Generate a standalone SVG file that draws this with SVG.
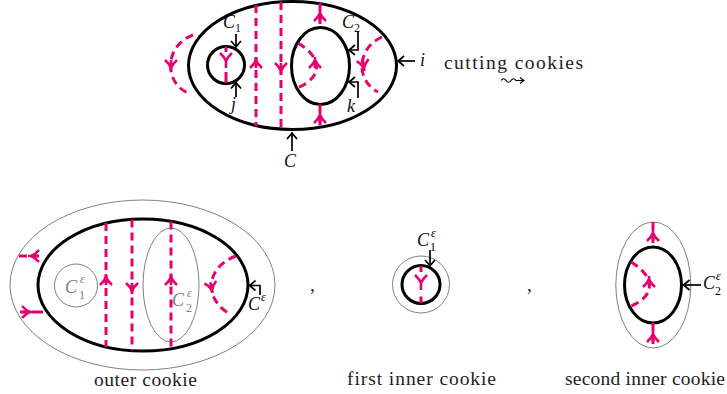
<svg xmlns="http://www.w3.org/2000/svg" xmlns:xlink="http://www.w3.org/1999/xlink" width="727" height="394" viewBox="0 0 727 394">
<style>
.bk{fill:none;stroke:#000;stroke-width:3}
.gr{fill:none;stroke:#808080;stroke-width:1}
.pk{fill:none;stroke:#e6006f;stroke-width:3;stroke-dasharray:8 5}
.ps{fill:none;stroke:#e6006f;stroke-width:3}
.pa{fill:none;stroke:#e6006f;stroke-width:2.6;stroke-linejoin:round}
.ar{fill:none;stroke:#000;stroke-width:1.7}
.t{font-family:"Liberation Serif","Times New Roman",serif;font-size:19.5px;fill:#222}
.m{font-family:"Liberation Serif","Times New Roman",serif;font-style:italic;font-size:18px;fill:#111}
.s{font-family:"Liberation Serif","Times New Roman",serif;font-size:12px}
.e{font-family:"Liberation Serif","Times New Roman",serif;font-style:italic;font-size:12px}
.g{fill:#808080}
</style>
<defs>
<marker id="ah" viewBox="-8 -6 10 12" refX="0" refY="0" markerWidth="10" markerHeight="12" markerUnits="userSpaceOnUse" orient="auto">
<path d="M-6,-5 Q-1.5,-1 0,0 Q-1.5,1 -6,5" fill="none" stroke="#000" stroke-width="1.7"/>
</marker>
<marker id="ah2" viewBox="-6 -4 7 8" refX="0" refY="0" markerWidth="7" markerHeight="8" markerUnits="userSpaceOnUse" orient="auto">
<path d="M-4,-3 Q-1,-0.7 0,0 Q-1,0.7 -4,3" fill="none" stroke="#000" stroke-width="1.1"/>
</marker>
<path id="up" class="pa" d="M-6,8 Q-1.5,4 0,0 Q1.5,4 6,8 M0,-3 V8"/>
</defs>

<!-- ============ TOP: before cutting ============ -->
<g id="top-outer-C"><ellipse class="bk" cx="292.5" cy="65.5" rx="104" ry="64"/></g>
<g id="top-C1"><circle class="bk" cx="226" cy="65" r="18.5"/></g>
<g id="top-C2"><ellipse class="bk" cx="320.5" cy="66" rx="29" ry="38.5"/></g>

<g id="top-pink">
<path class="pk" d="M256,5 V126"/>
<path class="pk" d="M281,2 V129"/>
<path class="pk" d="M320,3 V27.5"/>
<path class="pk" d="M320,104.5 V128"/>
<path class="pk" d="M193,35 C165,45 163,82 188,93"/>
<path class="pk" d="M382,37 C357,48 355,80 378,92"/>
<path class="pk" d="M298,43 C320,56 326,76 297,88"/>
<path class="ps" d="M226,46.5 V52 M226,72 V83"/>
<path class="pa" d="M220,53 Q224.5,57 226,61 Q227.5,57 232,53 M226,61 V68"/>
<use xlink:href="#up" transform="translate(256,60)"/>
<use xlink:href="#up" transform="translate(281,71) rotate(180)"/>
<use xlink:href="#up" transform="translate(320,13)"/>
<use xlink:href="#up" transform="translate(320,115)"/>
<use xlink:href="#up" transform="translate(171,68) rotate(180)"/>
<use xlink:href="#up" transform="translate(364,68) rotate(170)"/>
<use xlink:href="#up" transform="translate(315,60)"/>
</g>

<g id="top-labels">
<path class="ar" d="M236,34 V47" marker-end="url(#ah)"/>
<path class="ar" d="M236,97 V82.5" marker-end="url(#ah)"/>
<path class="ar" d="M358,32 V50 H349" marker-end="url(#ah)"/>
<path class="ar" d="M358,98 V82 H349" marker-end="url(#ah)"/>
<path class="ar" d="M415,61 H398" marker-end="url(#ah)"/>
<path class="ar" d="M292,151 V133" marker-end="url(#ah)"/>
<text class="m" x="223" y="28">C<tspan class="s" font-style="normal" dy="4">1</tspan></text>
<text class="m" x="342" y="28">C<tspan class="s" font-style="normal" dy="4">2</tspan></text>
<text class="m" x="231" y="110">j</text>
<text class="m" x="347" y="112">k</text>
<text class="m" x="420" y="66" font-size="14">i</text>
<text class="m" x="284" y="167">C</text>
</g>

<g id="cutting">
<text class="t" x="444" y="69" textLength="139">cutting cookies</text>
<path d="M501,80.5 q2.5,-3.5 5,0 t5,0 t5,0 L524,80.5" fill="none" stroke="#000" stroke-width="1.2" marker-end="url(#ah2)"/>
</g>

<!-- ============ BOTTOM: outer cookie ============ -->
<g id="outer-cookie">
<ellipse class="gr" cx="142.5" cy="285" rx="132.5" ry="85"/>
<ellipse class="bk" cx="143" cy="285" rx="105" ry="66"/>
<circle class="gr" cx="76" cy="285.5" r="21.5"/>
<ellipse class="gr" cx="171" cy="285" rx="28" ry="57"/>
<text class="m g" x="65" y="293">C</text>
<text class="e g" x="80" y="283">ε</text>
<text class="s g" x="79" y="299">1</text>
<text class="m g" x="172" y="306">C</text>
<text class="e g" x="187" y="297">ε</text>
<text class="s g" x="186" y="312">2</text>
<path class="ar" d="M260,295 V285.5 H249.5" marker-end="url(#ah)"/>
<text class="m" x="248" y="310">C</text>
<text class="e" x="261" y="301">ε</text>
<text class="t" x="94" y="385.5" textLength="103">outer cookie</text>
</g>

<g id="outer-pink">
<path class="pk" d="M106,223 V347"/>
<path class="pk" d="M132,219.5 V350.5"/>
<path class="pk" d="M171,221.5 V348.5"/>
<path class="pk" d="M236,256 C208,266 202,296 228,313"/>
<path class="pk" style="stroke-dasharray:8 4" d="M19,256 H42"/>
<path class="pk" style="stroke-dasharray:6 6 20" d="M20,312 H43"/>
<use xlink:href="#up" transform="translate(106,277)"/>
<use xlink:href="#up" transform="translate(132,291) rotate(180)"/>
<use xlink:href="#up" transform="translate(171,277)"/>
<use xlink:href="#up" transform="translate(212,290) rotate(168)"/>
<use xlink:href="#up" transform="translate(31,256) rotate(-90)"/>
<use xlink:href="#up" transform="translate(30,312) rotate(90)"/>
</g>

<g id="comma1"><text class="t" x="310" y="291">,</text></g>
<g id="comma2"><text class="t" x="527" y="291">,</text></g>

<!-- ============ first inner cookie ============ -->
<g id="first-inner-cookie">
<circle class="gr" cx="421" cy="284.5" r="28.5"/>
<circle class="bk" cx="421" cy="284.5" r="19"/>
<path class="ps" d="M421,266 V272 M421,296.5 V303"/>
<path class="pa" d="M415,275 Q419.5,279 421,283 Q422.5,279 427,275 M421,283 V290"/>
<path class="ar" d="M430,250 V266" marker-end="url(#ah)"/>
<text class="m" x="417" y="246">C</text>
<text class="e" x="431" y="237">ε</text>
<text class="s" x="430" y="251">1</text>
<text class="t" x="347" y="385" textLength="149">first inner cookie</text>
</g>

<!-- ============ second inner cookie ============ -->
<g id="second-inner-cookie">
<ellipse class="gr" cx="653.3" cy="285" rx="37.5" ry="63"/>
<ellipse class="bk" cx="653" cy="285" rx="28.5" ry="38"/>
<path class="pk" d="M653,222 V247"/>
<path class="pk" d="M653,323 V348"/>
<path class="pk" d="M631,262 C653,275 659,295 629,307"/>
<use xlink:href="#up" transform="translate(653,233)"/>
<use xlink:href="#up" transform="translate(653,334)"/>
<use xlink:href="#up" transform="translate(649,279)"/>
<path class="ar" d="M701,285 H683.5" marker-end="url(#ah)"/>
<text class="m" x="703" y="289">C</text>
<text class="e" x="716" y="280">ε</text>
<text class="s" x="715" y="295">2</text>
<text class="t" x="565" y="385" textLength="160">second inner cookie</text>
</g>
</svg>
